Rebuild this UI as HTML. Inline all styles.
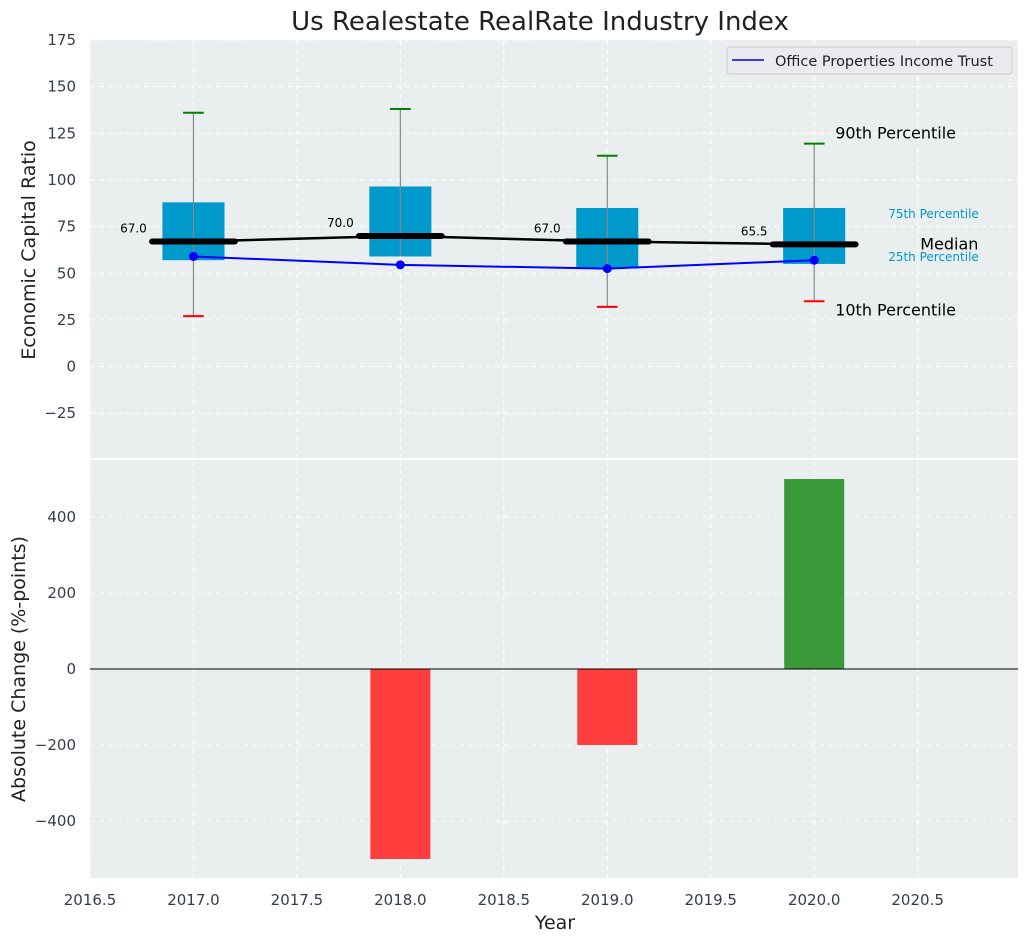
<!DOCTYPE html>
<html><head><meta charset="utf-8"><style>
body{margin:0;background:#fff;font-family:"Liberation Sans","DejaVu Sans",sans-serif}
svg text{font-family:"DejaVu Sans","Liberation Sans",sans-serif}
</style></head><body>
<svg id="c" width="1029" height="942" xmlns="http://www.w3.org/2000/svg"></svg>
<script>
const years=[2017,2018,2019,2020];
const p10=[27,null,32,35];
const p25=[57,59,53,55];
const p50=[67,70,67,65.5];
const p75=[88,96.5,85,85];
const p90=[136,138,113,119.5];
const company=[59,54.5,52.5,57];
const changes=[0,-500,-200,500];
const topTicks=[-25,0,25,50,75,100,125,150,175];
const botTicks=[-400,-200,0,200,400];
const xTicks=[2016.5,2017,2017.5,2018,2018.5,2019,2019.5,2020,2020.5];

const NS="http://www.w3.org/2000/svg";
const svg=document.getElementById('c');
function el(t,a,txt,p){const e=document.createElementNS(NS,t);for(const k in a)e.setAttribute(k,a[k]);if(txt!=null)e.textContent=txt;(p||svg).appendChild(e);return e;}
const L=90,R=1018,T1=40,B1=458,T2=460,B2=878;
const x=v=>L+(v-2016.5)/(2020.985-2016.5)*(R-L);
const y1=v=>B1-(v-(-49))/(175-(-49))*(B1-T1);
const y2=v=>B2-(v+550)/1100*(B2-T2);
const bg='#eaeeee';
let e;
e=el('rect',{x:L,y:T1,width:R-L,height:B1-T1,fill:bg});

e=el('rect',{x:L,y:T2,width:R-L,height:B2-T2,fill:bg});

xTicks.forEach(t=>{[[T1,B1],[T2,B2]].forEach(([a,b])=>el('line',{x1:x(t),x2:x(t),y1:a,y2:b,stroke:'#fff','stroke-dasharray':'5,4','stroke-width':1}));
 e=el('text',{x:x(t),y:905,'text-anchor':'middle','font-size':15,fill:'#333d4d'},t.toFixed(1));
 });
topTicks.forEach(t=>{el('line',{x1:L,x2:R,y1:y1(t),y2:y1(t),stroke:'#fff','stroke-dasharray':'5,4'});
 e=el('text',{x:76,y:y1(t)+5,'text-anchor':'end','font-size':15,fill:'#333d4d'},t<0?'\u2212'+(-t):t);
 });
botTicks.forEach(t=>{el('line',{x1:L,x2:R,y1:y2(t),y2:y2(t),stroke:'#fff','stroke-dasharray':'5,4'});
 e=el('text',{x:76,y:y2(t)+5,'text-anchor':'end','font-size':15,fill:'#333d4d'},t<0?'\u2212'+(-t):t);
 });
years.forEach((yr,i)=>{const cx=x(yr),hw=x(yr+0.15)-cx,mw=x(yr+0.2)-cx,cw=x(yr+0.05)-cx;
 e=el('rect',{x:cx-hw,y:y1(p75[i]),width:2*hw,height:y1(p25[i])-y1(p75[i]),fill:'#0099cc'});
 
 const lo=p10[i]!=null?p10[i]:p25[i];
 el('line',{x1:cx,x2:cx,y1:y1(p90[i]),y2:y1(lo),stroke:'#888','stroke-width':1.2});
 e=el('line',{x1:cx-cw,x2:cx+cw,y1:y1(p90[i]),y2:y1(p90[i]),stroke:'green','stroke-width':2});
 
 if(p10[i]!=null){e=el('line',{x1:cx-cw,x2:cx+cw,y1:y1(p10[i]),y2:y1(p10[i]),stroke:'red','stroke-width':2});
 }
 e=el('line',{x1:cx-mw,x2:cx+mw,y1:y1(p50[i]),y2:y1(p50[i]),stroke:'#000','stroke-width':6,'stroke-linecap':'round'});
 
 e=el('text',{x:x(yr-0.29),y:y1(p50[i])-9,'text-anchor':'middle','font-size':12,fill:'#000'},p50[i].toFixed(1));
 
});
e=el('polyline',{points:years.map((v,i)=>x(v)+','+y1(p50[i])).join(' '),fill:'none',stroke:'#000','stroke-width':2.5});

e=el('polyline',{points:years.map((v,i)=>x(v)+','+y1(company[i])).join(' '),fill:'none',stroke:'blue','stroke-width':2});

years.forEach((v,i)=>{e=el('circle',{cx:x(v),cy:y1(company[i]),r:4.5,fill:'blue'});
 });
const li=3,ax=x(years[li]);
[['90th Percentile',p90[li],21,'#000',16,-5],['75th Percentile',p75[li],74,'#0099cc',12,10],['Median',p50[li],106,'#000',16,5],['25th Percentile',p25[li],74,'#0099cc',12,-3],['10th Percentile',p10[li],21,'#000',16,14]].forEach(a=>{
 e=el('text',{x:ax+a[2],y:y1(a[1])+a[5],'font-size':a[4],fill:a[3]},a[0]);
 });
years.forEach((yr,i)=>{const v=changes[i];if(!v)return;const cx=x(yr),hw=x(yr+0.145)-cx;
 e=el('rect',{x:cx-hw,y:Math.min(y2(0),y2(v)),width:2*hw,height:Math.abs(y2(v)-y2(0)),fill:v>0?'#3a9a3a':'#ff3d3d'});
 });
el('line',{x1:L,x2:R,y1:y2(0),y2:y2(0),stroke:'#000','stroke-width':1});
const lg=el('g',{});
el('rect',{x:727,y:47,width:285,height:27,rx:3,fill:'#eaeaf0',stroke:'#ccc'},null,lg);
el('line',{x1:732,x2:764,y1:60,y2:60,stroke:'blue','stroke-width':1.5},null,lg);
el('text',{x:775,y:66,'font-size':14.5,fill:'#222'},'Office Properties Income Trust',lg);
e=el('text',{x:540,y:30,'text-anchor':'middle','font-size':26,fill:'#222'},'Us Realestate RealRate Industry Index');

e=el('text',{x:555,y:929,'text-anchor':'middle','font-size':19,fill:'#222'},'Year');

e=el('text',{x:0,y:0,'text-anchor':'middle','font-size':19,fill:'#222',transform:'translate(35,250) rotate(-90)'},'Economic Capital Ratio');

e=el('text',{x:0,y:0,'text-anchor':'middle','font-size':19,fill:'#222',transform:'translate(25,669) rotate(-90)'},'Absolute Change (%-points)');

</script>
</body></html>
